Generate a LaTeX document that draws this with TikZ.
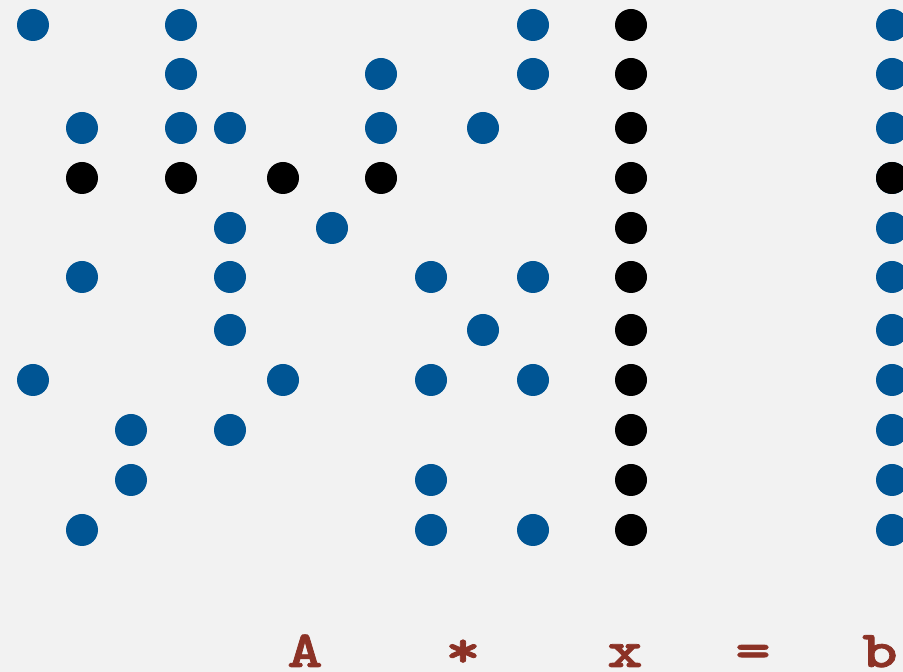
\documentclass[tikz,border=0pt]{standalone}
\usepackage{fontspec}
\newfontfamily\lblfont{lmmonolt10-bold.otf}[FakeStretch=1.3,FakeBold=1.5]
\definecolor{bgc}{RGB}{242,242,242}
\definecolor{dotblue}{RGB}{0,85,148}
\definecolor{lblred}{RGB}{140,50,38}
\begin{document}
\begin{tikzpicture}[x=1pt,y=1pt,
  bdot/.style={fill=dotblue},
  kdot/.style={fill=black},
  lbl/.style={text=lblred,font=\lblfont\fontsize{52}{52}\selectfont,anchor=base,inner sep=0pt}]
\fill[bgc] (0,0) rectangle (903,672);
\useasboundingbox (0,0) rectangle (903,672);
% blue dots of A (x, y from top)
\foreach \px/\py in {33/25,181/25,533/25,
  181/74,381/74,533/74,
  82/128,181/128,230/128,381/128,483/128,
  230/228,332/228,
  82/277,230/277,431/277,533/277,
  230/330,483/330,
  33/380,283/380,431/380,533/380,
  131/430,230/430,
  131/480,431/480,
  82/530,431/530,533/530}
  \fill[bdot] (\px,672-\py) circle (16);
% black row of A
\foreach \px in {82,181,283,381}
  \fill[kdot] (\px,672-178) circle (16);
% x vector and b vector
\foreach \py in {25,74,128,178,228,277,330,380,430,480,530} {
  \fill[kdot] (631,672-\py) circle (16);
  \fill[bdot] (892,672-\py) circle (16);
}
\fill[kdot] (892,672-178) circle (16);
% labels
\node[lbl] (lA) at (305,5) {A};
\node[lbl] (lS) at (463,5) {*};
\node[lbl] (lx) at (625,5) {x};
\node[lbl] (le) at (753,5) {=};
\node[lbl] (lb) at (880,5) {b};
\end{tikzpicture}
\end{document}
